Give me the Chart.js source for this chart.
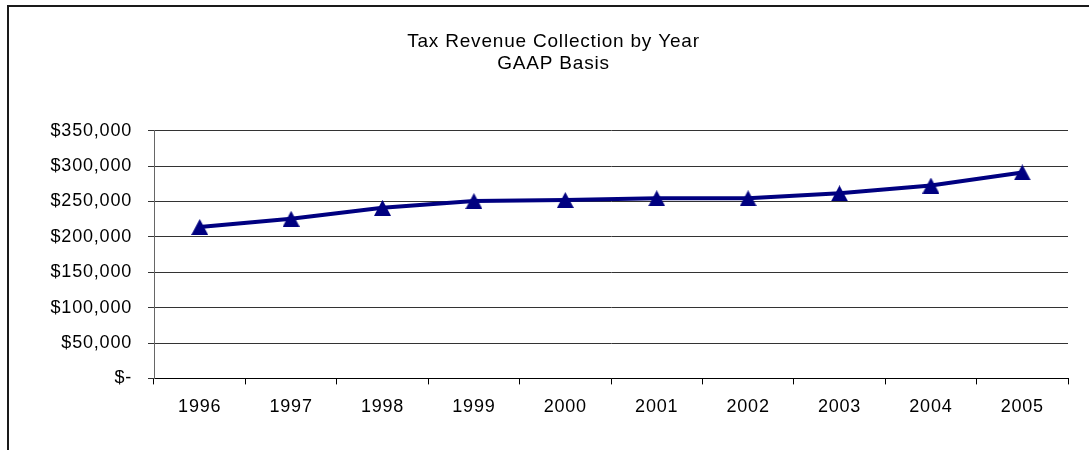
<!DOCTYPE html>
<html>
<head>
<meta charset="utf-8">
<title>Tax Revenue Collection by Year</title>
<script src="https://cdn.jsdelivr.net/npm/chart.js@4"></script>
<style>
  html, body { margin: 0; padding: 0; background: #fff; overflow: hidden; }
  #frame {
    position: absolute; left: 7px; top: 5px;
    width: 1200px; height: 600px;
    border: 2px solid #1a1a1a;
  }
  #chart { position: absolute; left: 0; top: 0; }
</style>
</head>
<body>
<div id="frame"></div>
<canvas id="chart" width="1089" height="450"></canvas>
<script>
// revenue collected per fiscal year (GAAP basis)
const years = ["1996", "1997", "1998", "1999", "2000", "2001", "2002", "2003", "2004", "2005"];
const revenue = [214000, 225500, 241000, 250500, 252000, 254500, 254500, 261500, 272500, 291000];
const yTicks = [0, 50000, 100000, 150000, 200000, 250000, 300000, 350000];
const titleLines = ["Tax Revenue Collection by Year", "GAAP Basis"];

const navy = "#000080";
const fontFamily = "'Liberation Sans', Arial, sans-serif";

// square-box triangle marker like the spreadsheet one
function makeMarker(w, h, color) {
    let c = document.createElement("canvas");
    c.width = w;
    c.height = h;
    let g = c.getContext("2d");
    g.fillStyle = color;
    g.beginPath();
    g.moveTo(w / 2, 0);
    g.lineTo(w, h);
    g.lineTo(0, h);
    g.closePath();
    g.fill();
    return c;
}

function money(v) {
    if (v === 0) return "$-";
    return "$" + v.toLocaleString("en-US");
}

// text is a touch wider than plain Arial
const spacing = {
    id: "spacing",
    beforeUpdate(chart) { chart.ctx.letterSpacing = "0.8px"; },
    beforeDraw(chart) { chart.ctx.letterSpacing = "0.8px"; }
};

const marker = makeMarker(17, 16, navy);

new Chart(document.getElementById("chart"), {
    type: "line",
    data: {
        labels: years,
        datasets: [{
            data: revenue,
            borderColor: navy,
            backgroundColor: navy,
            borderWidth: 4,
            tension: 0,
            pointStyle: marker,
            pointRadius: 8
        }]
    },
    options: {
        responsive: false,
        animation: false,
        layout: { padding: { left: 39, right: 21, top: 0, bottom: 20 } },
        plugins: {
            legend: { display: false },
            tooltip: { enabled: false },
            title: {
                display: true,
                text: titleLines,
                color: "#000",
                font: { family: fontFamily, size: 19, weight: "normal", lineHeight: 1.15 },
                padding: { top: 31, bottom: 56 }
            }
        },
        scales: {
            x: {
                offset: true,
                grid: { offset: true, drawOnChartArea: false, tickLength: 6, color: "#000" },
                border: { color: "#000", width: 1 },
                ticks: { color: "#000", padding: 12, font: { family: fontFamily, size: 18 } }
            },
            y: {
                min: 0,
                max: 350000,
                afterBuildTicks: function (scale) {
                    scale.ticks = yTicks.map(v => ({ value: v }));
                },
                afterFit: function (scale) { scale.width = 115; },
                grid: { color: "#333", tickLength: 6 },
                border: { color: "#666", width: 1 },
                ticks: {
                    color: "#000",
                    padding: 16,
                    font: { family: fontFamily, size: 18 },
                    callback: v => money(v)
                }
            }
        }
    },
    plugins: [spacing]
});
</script>
</body>
</html>
